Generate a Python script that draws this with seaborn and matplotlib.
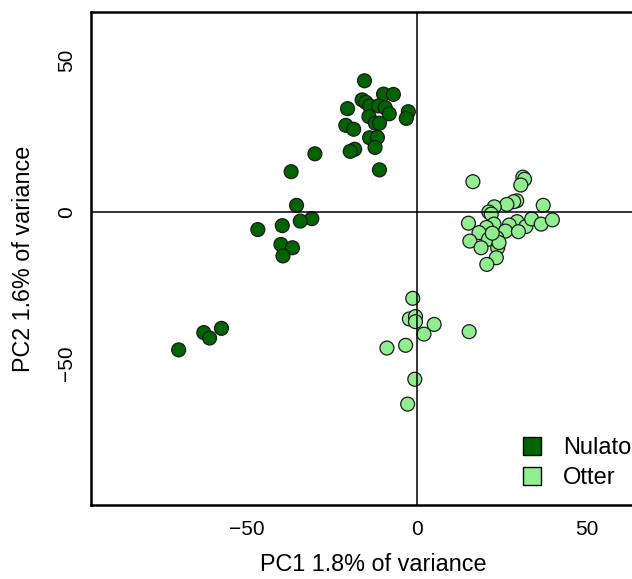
import matplotlib
matplotlib.use("Agg")
import matplotlib.pyplot as plt
from matplotlib.lines import Line2D
import pandas as pd
import seaborn as sns

# ---------- data ----------
nulato_pc1 = [-15.5, -9.9, -7.0, -16.2, -15.1, -14.0, -11.4, -9.4, -8.2, -20.5,
              -2.6, -3.2, -14.2, -21.0, -18.7, -12.3, -11.1, -14.0, -11.7, -12.4,
              -18.4, -19.7, -11.1, -30.1, -37.1, -35.5, -31.0, -34.4, -39.7, -46.9,
              -40.1, -36.7, -39.5, -70.2, -62.8, -61.1, -57.6]
nulato_pc2 = [43.3, 38.9, 38.8, 37.0, 36.2, 35.0, 35.0, 34.4, 32.4, 34.1,
              33.1, 30.9, 31.5, 28.6, 27.3, 29.3, 29.3, 24.5, 24.6, 21.3,
              20.7, 20.0, 13.9, 19.2, 13.3, 2.2, -2.2, -3.0, -4.5, -5.8,
              -10.7, -11.8, -14.5, -45.5, -39.8, -41.6, -38.4]

otter_pc1 = [16.4, 31.1, 31.6, 30.5, 29.3, 28.4, 26.4, 37.1, 22.7, 21.1,
             21.8, 15.1, 22.6, 20.4, 29.4, 27.1, 32.0, 33.7, 36.5, 39.8,
             26.0, 29.8, 18.2, 23.4, 15.5, 21.0, 18.8, 23.7, 24.1, 23.3,
             20.5, 22.1,
             -1.3, -2.3, -0.5, -0.5, 5.0, 2.0, -8.9, -3.4, -0.7, -2.8, 15.3]
otter_pc2 = [10.0, 11.5, 10.8, 8.9, 3.7, 3.4, 2.5, 2.2, 1.7, 0.0,
             -0.7, -3.7, -4.0, -5.1, -3.2, -4.3, -4.8, -2.3, -4.0, -2.6,
             -6.3, -6.5, -6.8, -8.5, -9.6, -9.0, -11.8, -11.8, -10.1, -15.1,
             -17.3, -7.0,
             -28.5, -35.3, -34.5, -36.2, -37.1, -40.3, -44.9, -44.0, -55.2, -63.4, -39.5]

populations = ["Nulato", "Otter"]
pop_colors = ["#006400", "#90EE90"]
x_ticks = [-50, 0, 50]
y_ticks = [-50, 0, 50]
x_label = "PC1 1.8% of variance"
y_label = "PC2 1.6% of variance"

df = pd.DataFrame({
    "PC1": nulato_pc1 + otter_pc1,
    "PC2": nulato_pc2 + otter_pc2,
    "pop": ["Nulato"] * len(nulato_pc1) + ["Otter"] * len(otter_pc1),
})

# ---------- plot ----------
sns.set_style("white")
plt.rcParams["font.family"] = ["Liberation Sans", "DejaVu Sans"]
plt.rcParams["text.color"] = "black"
plt.rcParams["axes.labelcolor"] = "black"

TICK_FS = 15
LABEL_FS = 16.8
LEG_FS = 17

fig = plt.figure(figsize=(6.32, 5.79), dpi=100)
# axes runs past the right edge, as in the (cropped) reference
ax = fig.add_axes([91 / 632, 74 / 579, 564 / 632, 493 / 579])

sns.scatterplot(data=df, x="PC1", y="PC2", hue="pop", hue_order=populations,
                palette=pop_colors, s=100, edgecolor="#1a1a1a", linewidth=0.9,
                legend=False, ax=ax, zorder=2)

ax.axhline(0, color="black", lw=1.1, zorder=3)
ax.axvline(0, color="black", lw=1.1, zorder=3)

ax.set_xlim(-96, 70)
ax.set_ylim(-96.7, 66)
ax.set_xticks(x_ticks)
ax.set_yticks(y_ticks)
ax.set_xticklabels([str(t).replace("-", "\u2212") for t in x_ticks])
ax.set_yticklabels([str(t).replace("-", "\u2212") for t in y_ticks],
                   rotation=90, va="center")
ax.tick_params(direction="out", length=7, width=1, labelsize=TICK_FS,
               colors="black", pad=4)

for sp in ax.spines.values():
    sp.set_linewidth(1.8)
    sp.set_color("black")

ax.set_xlabel(x_label, fontsize=LABEL_FS, labelpad=10)
ax.set_ylabel(y_label, fontsize=LABEL_FS, labelpad=16)

handles = [Line2D([0], [0], marker="s", linestyle="none", markersize=13,
                  markerfacecolor=c, markeredgecolor="black", markeredgewidth=1.0)
           for c in pop_colors]
ax.legend(handles, populations, loc="upper left",
          bbox_to_anchor=(518 / 632, 1 - 437 / 579), bbox_transform=fig.transFigure,
          frameon=False, fontsize=LEG_FS, handletextpad=0.75, labelspacing=0.35,
          borderaxespad=0, borderpad=0, handlelength=1.15)

fig.savefig("out.png", dpi=100)
